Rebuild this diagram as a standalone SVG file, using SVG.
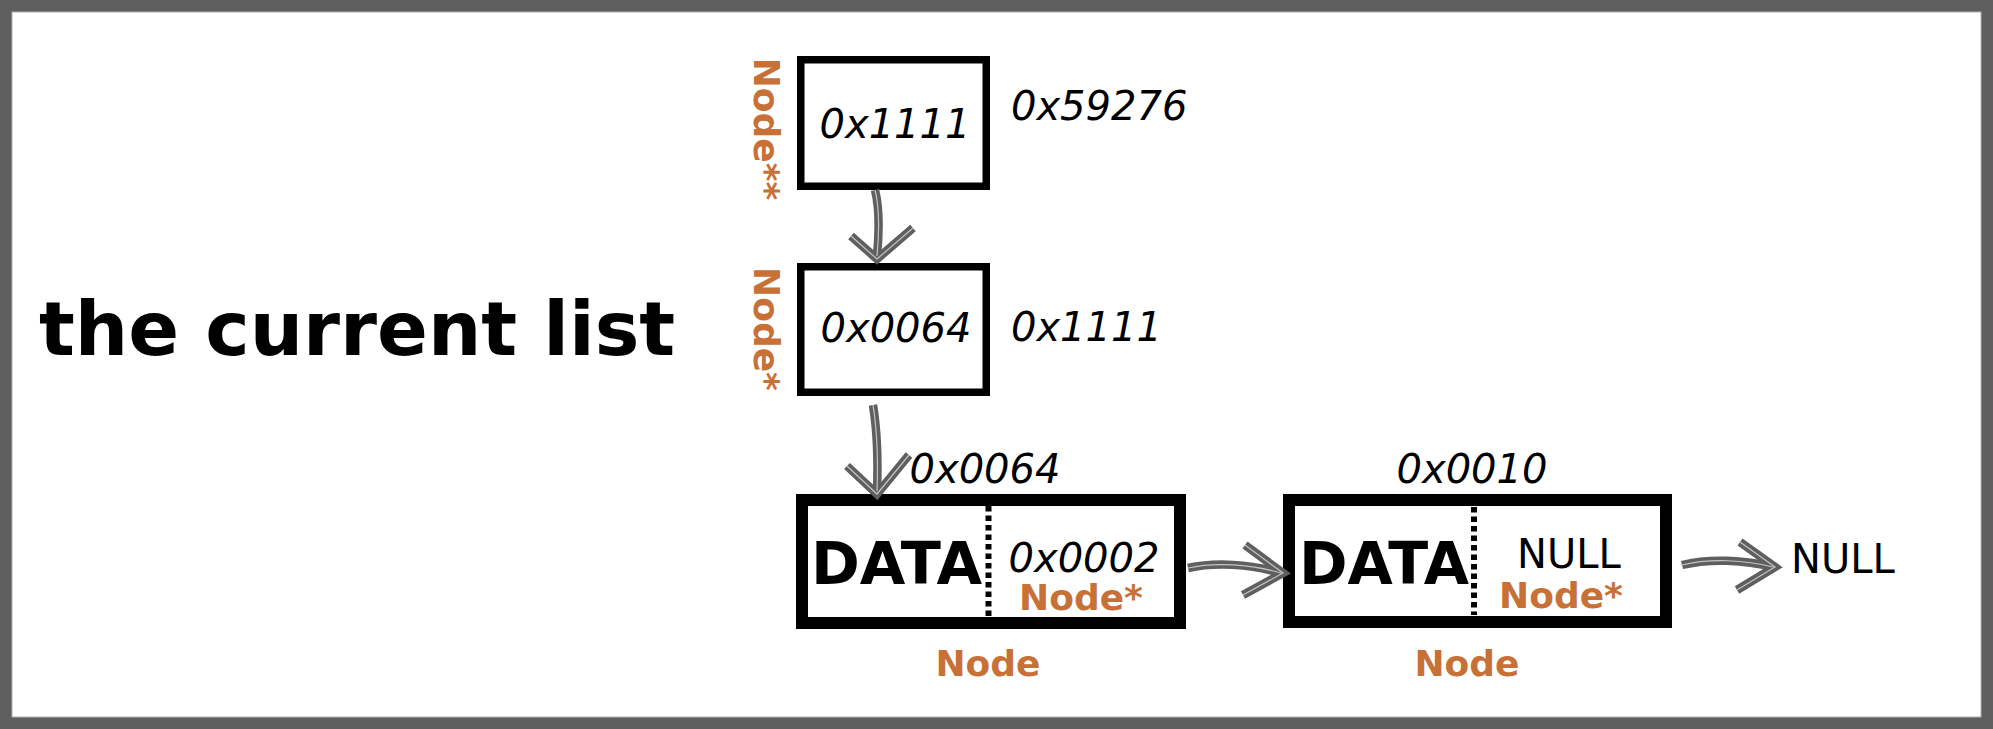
<svg xmlns="http://www.w3.org/2000/svg" width="1993" height="729" viewBox="0 0 1993 729">
  <style>
    .box { fill: #ffffff; stroke: #000000; }
    .ptr { stroke-width: 7.5; }
    .node { stroke-width: 12; }
    .div { stroke: #000000; stroke-width: 6; stroke-dasharray: 5.5 4; fill: none; }
    .addr { font-family: "DejaVu Sans", "Liberation Sans", sans-serif; font-style: italic; font-size: 40px; fill: #000000; }
    .plain { font-family: "DejaVu Sans", "Liberation Sans", sans-serif; font-size: 40px; fill: #000000; }
    .type { font-family: "DejaVu Sans", "Liberation Sans", sans-serif; font-weight: bold; font-size: 36px; fill: #c87137; }
    .data { font-family: "DejaVu Sans", "Liberation Sans", sans-serif; font-weight: bold; font-size: 59px; fill: #000000; }
    .title { font-family: "DejaVu Sans", "Liberation Sans", sans-serif; font-weight: bold; font-size: 75px; fill: #000000; }
    .aout { fill: none; stroke: #5f5f5f; stroke-width: 8.5; stroke-linecap: butt; stroke-linejoin: miter; }
    .ain { fill: none; stroke: #c4c4c4; stroke-width: 1.2; }
  </style>

  <g id="frame">
    <rect x="0" y="0" width="1993" height="729" fill="#5f5f5f"/>
    <rect x="12" y="12" width="1969" height="705" fill="#ffffff" stroke="#b0b0b0" stroke-width="1"/>
  </g>

  <g id="title">
    <text class="title" x="39" y="355">the current list</text>
  </g>

  <g id="node-ptrptr">
    <rect class="box ptr" x="800.75" y="59.75" width="185.5" height="126.5"/>
    <text class="addr" x="895" y="138" text-anchor="middle">0x1111</text>
    <text class="addr" x="1011" y="120">0x59276</text>
    <text class="type" transform="translate(754,129) rotate(90)" text-anchor="middle">Node**</text>
  </g>

  <g id="node-ptr">
    <rect class="box ptr" x="800.75" y="266.75" width="185.5" height="125.5"/>
    <text class="addr" x="896" y="342" text-anchor="middle">0x0064</text>
    <text class="addr" x="1011" y="341">0x1111</text>
    <text class="type" transform="translate(754,329) rotate(90)" text-anchor="middle">Node*</text>
  </g>

  <g id="node-1">
    <rect class="box node" x="802" y="500" width="378" height="123"/>
    <line class="div" x1="988.5" y1="506" x2="988.5" y2="617"/>
    <text class="data" x="811" y="584" textLength="171" lengthAdjust="spacingAndGlyphs">DATA</text>
    <text class="addr" x="1084" y="572" text-anchor="middle">0x0002</text>
    <text class="type" x="1081" y="610" text-anchor="middle">Node*</text>
    <text class="addr" x="985" y="483" text-anchor="middle">0x0064</text>
    <text class="type" x="988" y="676" text-anchor="middle">Node</text>
  </g>

  <g id="node-2">
    <rect class="box node" x="1289" y="500" width="377" height="122"/>
    <line class="div" x1="1474" y1="507" x2="1474" y2="615"/>
    <text class="data" x="1299" y="584" textLength="170" lengthAdjust="spacingAndGlyphs">DATA</text>
    <text class="plain" x="1569" y="568" text-anchor="middle">NULL</text>
    <text class="type" x="1561" y="608" text-anchor="middle">Node*</text>
    <text class="addr" x="1472" y="483" text-anchor="middle">0x0010</text>
    <text class="type" x="1467" y="676" text-anchor="middle">Node</text>
  </g>

  <g id="null-end">
    <text class="plain" x="1791" y="573">NULL</text>
  </g>

  <g id="connectors">
    <g id="arrow-1">
      <path class="aout" d="M875,190 C880,210 879,235 877,256"/>
      <path class="aout" d="M851,236 L877,259 L913,228"/>
      <path class="ain" d="M875,190 C880,210 879,235 877,256"/>
      <path class="ain" d="M851,236 L877,259 L913,228"/>
    </g>
    <g id="arrow-2">
      <path class="aout" d="M873,405 C877,430 878,465 877,491"/>
      <path class="aout" d="M847,466 L877,494 L909,455"/>
      <path class="ain" d="M873,405 C877,430 878,465 877,491"/>
      <path class="ain" d="M847,466 L877,494 L909,455"/>
    </g>
    <g id="arrow-3">
      <path class="aout" d="M1188,568 C1215,562 1250,564 1281,573"/>
      <path class="aout" d="M1245,545 L1283,573 L1243,595"/>
      <path class="ain" d="M1188,568 C1215,562 1250,564 1281,573"/>
      <path class="ain" d="M1245,545 L1283,573 L1243,595"/>
    </g>
    <g id="arrow-4">
      <path class="aout" d="M1682,565 C1710,558 1745,560 1773,567"/>
      <path class="aout" d="M1740,542 L1775,567 L1737,590"/>
      <path class="ain" d="M1682,565 C1710,558 1745,560 1773,567"/>
      <path class="ain" d="M1740,542 L1775,567 L1737,590"/>
    </g>
  </g>
</svg>
